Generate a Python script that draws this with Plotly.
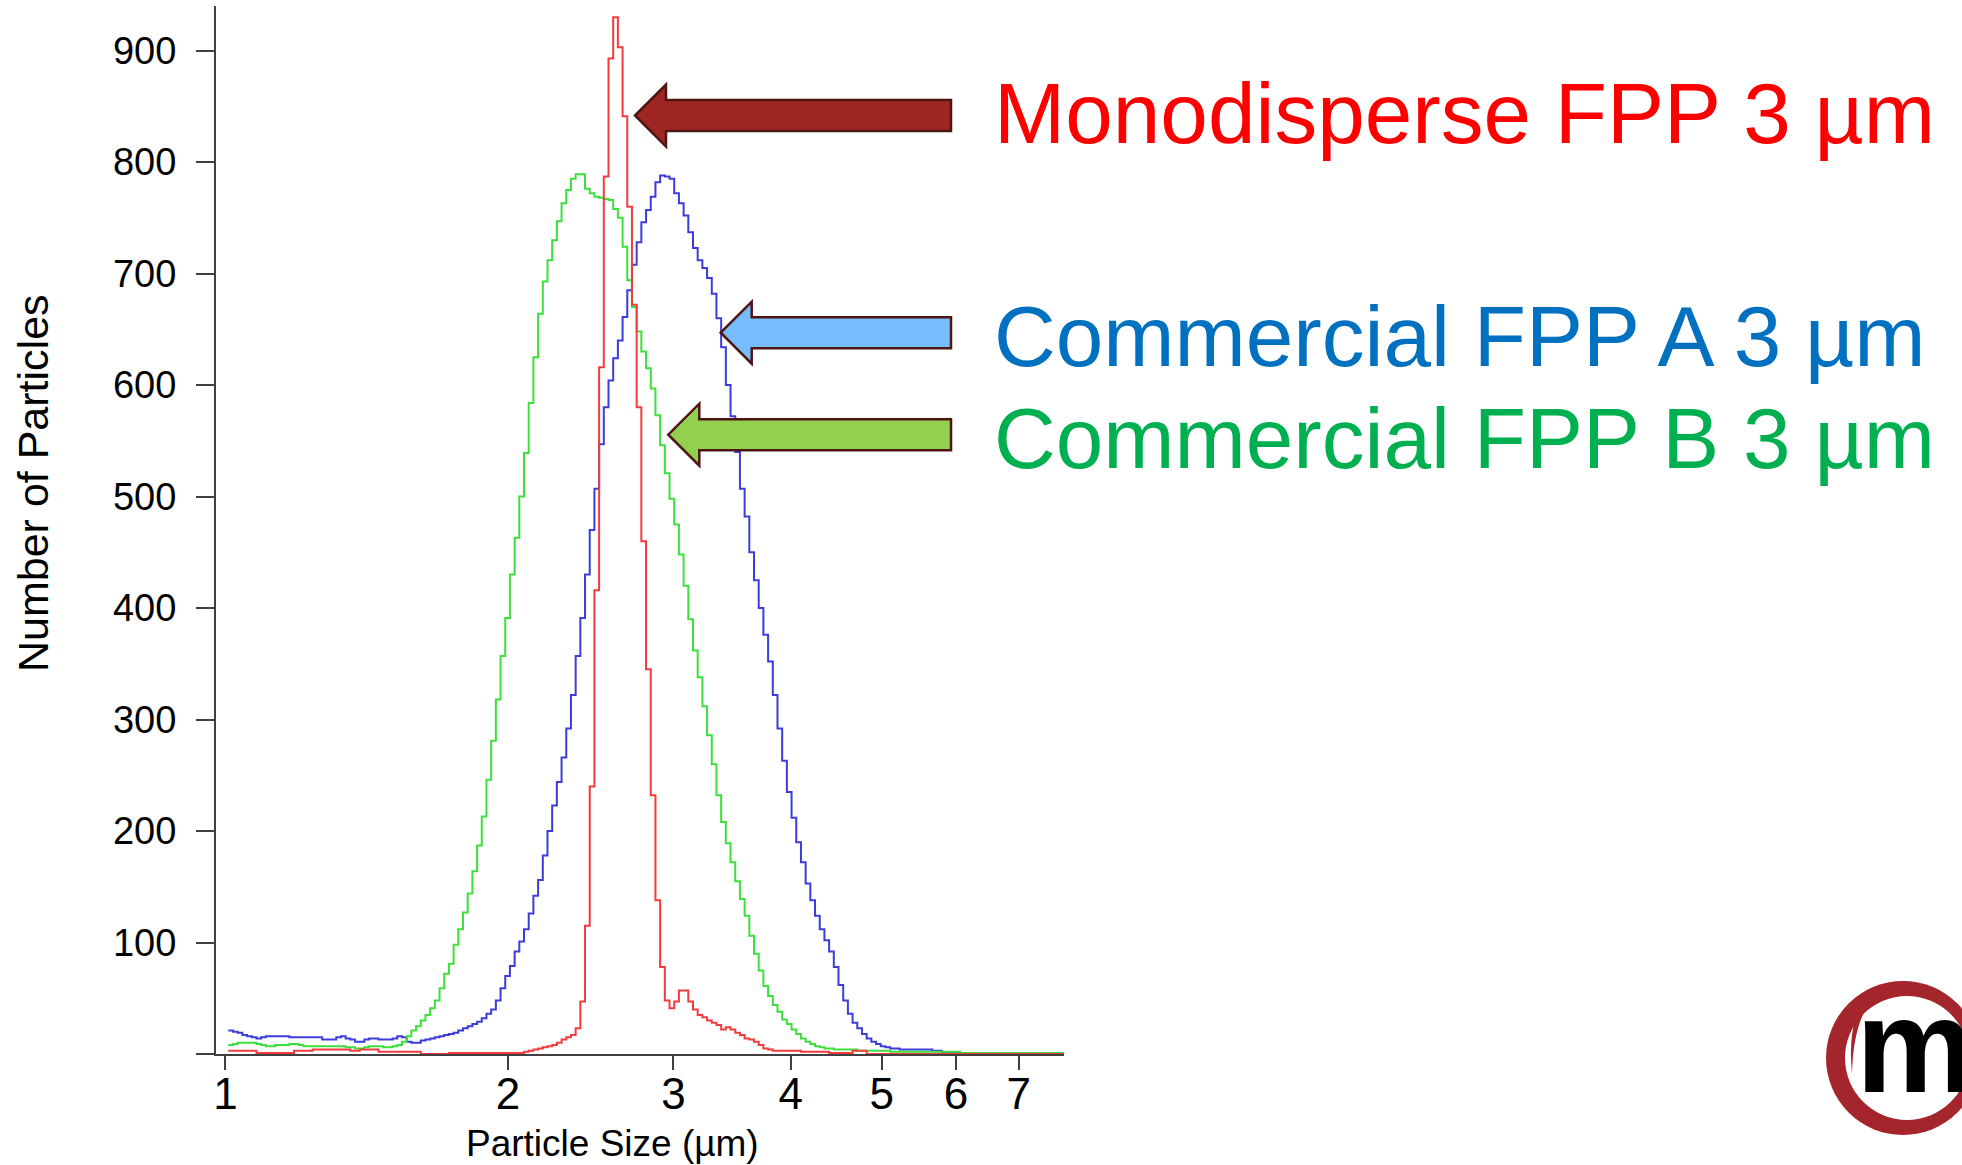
import numpy as np
import plotly.graph_objects as go

# ---------------- data ----------------
# Instrument size bins are log-spaced: first edge and width in log10(µm)
LOG_FIRST_EDGE = 0.003
LOG_BIN_WIDTH = 0.005

x_tick_values = [1, 2, 3, 4, 5, 6, 7]
x_tick_labels = ["1", "2", "3", "4", "5", "6", "7"]
y_tick_values = [0, 100, 200, 300, 400, 500, 600, 700, 800, 900]
y_tick_labels = ["", "100", "200", "300", "400", "500", "600", "700", "800", "900"]

series_names = ["Commercial FPP A 3 µm", "Commercial FPP B 3 µm", "Monodisperse FPP 3 µm"]

# Commercial FPP A (blue), counts per bin
commercial_a = [
    21, 20, 19, 17, 16, 15, 14, 15, 16, 16,
    16, 16, 16, 15, 15, 15, 15, 15, 15, 15,
    13, 13, 13, 15, 16, 14, 13, 11, 11, 13,
    14, 14, 13, 13, 13, 14, 16, 15, 11, 10,
    10, 12, 13, 14, 15, 16, 17, 18, 19, 21,
    23, 25, 27, 29, 32, 36, 40, 48, 59, 70,
    79, 92, 101, 112, 126, 142, 156, 178, 200, 223,
    244, 266, 292, 322, 357, 391, 430, 470, 507, 547,
    580, 604, 624, 640, 661, 685, 708, 728, 746, 757,
    769, 782, 788, 787, 785, 772, 763, 752, 737, 723,
    712, 705, 696, 682, 660, 634, 600, 572, 540, 507,
    482, 450, 425, 400, 376, 352, 322, 292, 263, 235,
    212, 190, 172, 153, 138, 124, 112, 102, 92, 78,
    62, 48, 36, 28, 23, 18, 14, 11, 9, 7,
    6, 5, 5, 4, 4, 4, 4, 4, 4, 4,
    3, 3, 1, 1, 1, 1, 1, 1, 1, 1,
    1, 1, 1, 0.5, 0.5, 0.5, 0.5, 0.5, 0.5, 0.5,
    0.5, 0.5, 0.5, 0.5, 0.5, 0.5, 0.5, 0.5,
]

# Commercial FPP B (green), counts per bin
commercial_b = [
    8, 9, 10, 10, 10, 10, 9, 8, 7, 7,
    8, 8, 8, 9, 9, 8, 7, 7, 7, 7,
    7, 7, 7, 7, 7, 6, 6, 5, 5, 6,
    7, 7, 7, 6, 6, 7, 8, 11, 16, 21,
    25, 30, 35, 41, 48, 59, 72, 81, 98, 112,
    127, 144, 164, 187, 213, 246, 281, 318, 357, 391,
    430, 463, 500, 539, 584, 625, 664, 693, 712, 730,
    747, 763, 775, 785, 789, 789, 776, 772, 769, 768,
    767, 766, 758, 750, 724, 694, 670, 648, 630, 615,
    597, 573, 546, 521, 498, 475, 448, 420, 390, 362,
    338, 312, 286, 260, 232, 208, 189, 172, 155, 139,
    124, 106, 90, 75, 61, 52, 44, 38, 31, 27,
    22, 18, 14, 11, 9, 7, 6, 5, 5, 4,
    4, 4, 4, 4, 3, 3, 3, 3, 3, 3,
    3, 2, 2, 2, 2, 2, 2, 2, 2, 2,
    2, 2, 2, 2, 2, 2, 1, 1, 1, 1,
    1, 1, 1, 1, 1, 1, 1, 1, 1, 1,
    1, 1, 1, 1, 1, 1, 1, 1,
]

# Monodisperse FPP (red), counts per bin
monodisperse = [
    3, 3, 3, 3, 3, 3, 1, 1, 1, 1,
    1, 1, 1, 1, 3, 3, 3, 3, 4, 4,
    4, 4, 4, 4, 4, 4, 3, 3, 4, 4,
    4, 4, 2, 2, 2, 2, 2, 2, 2, 2,
    2, 0, 0, 0, 0, 0, 0, 1, 1, 1,
    1, 1, 1, 1, 1, 1, 1, 1, 1, 1,
    1, 1, 1, 2, 3, 4, 5, 6, 7, 8,
    10, 13, 15, 17, 23, 47, 115, 240, 416, 616,
    787, 893, 930, 903, 841, 760, 672, 580, 460, 345,
    232, 138, 78, 48, 41, 47, 57, 57, 47, 40,
    35, 33, 30, 28, 26, 22, 24, 22, 19, 17,
    14, 13, 11, 8, 5, 4, 3, 3, 3, 3,
    3, 3, 2, 2, 2, 2, 2, 2, 1, 1,
    1, 1, 1, 3, 3, 3, 0, 0, 0, 0,
    0, 0, 0, 0, 0, 0, 0, 0, 0, 0,
    0, 0, 0, 0, 0, 0, 0, 0, 0, 0,
    0, 0, 0, 0, 0, 0, 0, 0, 0, 0,
    0, 0, 0, 0, 0, 0, 0, 0,
]

# ---------------- styling / layout ----------------
W, H = 1962, 1165
PL, PR, PT, PB = 216, 1064, 6, 1054  # plot area edges in pixels
FONT = "Liberation Sans, Arial, Helvetica, sans-serif"
AXIS_COLOR = "#404040"

n_bins = len(monodisperse)
edges = 10 ** (LOG_FIRST_EDGE + LOG_BIN_WIDTH * np.arange(n_bins + 1))


def px(x):
    return (x - PL) / (PR - PL)


def py(y):
    return (PB - y) / (PB - PT)


def step_trace(values, color, name):
    vals = list(values) + [values[-1]]
    return go.Scatter(
        x=edges, y=vals, mode="lines", line=dict(color=color, width=2, shape="hv"),
        name=name, hoverinfo="skip",
    )


fig = go.Figure()
fig.add_trace(step_trace(commercial_a, "#3C3CDC", series_names[0]))
fig.add_trace(step_trace(commercial_b, "#3CE03C", series_names[1]))
fig.add_trace(step_trace(monodisperse, "#F23C3C", series_names[2]))


def arrow_path(tip_x, tip_y, tail_x, head_len=31, head_half=31, shaft_half=15.5):
    pts = [
        (tip_x, tip_y), (tip_x + head_len, tip_y - head_half),
        (tip_x + head_len, tip_y - shaft_half), (tail_x, tip_y - shaft_half),
        (tail_x, tip_y + shaft_half), (tip_x + head_len, tip_y + shaft_half),
        (tip_x + head_len, tip_y + head_half),
    ]
    return "M " + " L ".join(f"{px(x):.5f},{py(y):.5f}" for x, y in pts) + " Z"


shapes = []
for tip_x, tip_y, fill in [
    (635, 115.5, "#A02624"),
    (720.7, 332.7, "#75BDFD"),
    (668.3, 434.7, "#92D050"),
]:
    shapes.append(dict(
        type="path", xref="paper", yref="paper", path=arrow_path(tip_x, tip_y, 951),
        fillcolor=fill, line=dict(color="#4E1612", width=2.5), layer="above",
    ))

# logo: red ring with inner swoosh
shapes.append(dict(type="circle", xref="paper", yref="paper",
                   x0=px(1826), x1=px(1980), y0=py(1135), y1=py(981),
                   fillcolor="#A4262C", line=dict(width=0)))
shapes.append(dict(type="circle", xref="paper", yref="paper",
                   x0=px(1845), x1=px(1969), y0=py(1120), y1=py(996),
                   fillcolor="white", line=dict(width=0)))


def pth(points_cmds):
    out = []
    for cmd, pts in points_cmds:
        out.append(cmd + " " + " ".join(f"{px(x):.5f},{py(y):.5f}" for x, y in pts))
    return " ".join(out) + " Z"


swoosh = pth([
    ("M", [(1874, 987)]),
    ("Q", [(1846, 1012), (1852, 1074)]),
    ("Q", [(1853, 1016), (1879, 991)]),
])
shapes.append(dict(type="path", xref="paper", yref="paper", path=swoosh,
                   fillcolor="#A4262C", line=dict(width=0)))

annotations = [
    dict(text="Monodisperse FPP 3 µm", x=px(992), y=py(113.7), xanchor="left", yanchor="middle",
         font=dict(family=FONT, size=85.5, color="#FF0000")),
    dict(text="Commercial FPP A 3 µm", x=px(992), y=py(336), xanchor="left", yanchor="middle",
         font=dict(family=FONT, size=85.5, color="#0070C0")),
    dict(text="Commercial FPP B 3 µm", x=px(992), y=py(438), xanchor="left", yanchor="middle",
         font=dict(family=FONT, size=85.5, color="#00B050")),
    dict(text="Particle Size (µm)", x=px(612.5), y=py(1143), xanchor="center", yanchor="middle",
         font=dict(family=FONT, size=37, color="black")),
    dict(text="Number of Particles", x=px(33), y=py(483), xanchor="center", yanchor="middle",
         textangle=-90, font=dict(family=FONT, size=43, color="black")),
    dict(text="<b>m</b>", x=px(1854), y=py(1046), xanchor="left", yanchor="middle",
         font=dict(family=FONT, size=133, color="black")),
]
for a in annotations:
    a.update(xref="paper", yref="paper", showarrow=False)

fig.update_layout(
    width=W, height=H,
    margin=dict(l=PL, r=W - PR, t=PT, b=H - PB, pad=0),
    paper_bgcolor="white", plot_bgcolor="white",
    showlegend=False,
    font=dict(family=FONT, color="black"),
    shapes=shapes,
    annotations=annotations,
    xaxis=dict(
        type="log",
        range=[np.log10(0.977), np.log10(7.82)],
        tickmode="array", tickvals=x_tick_values, ticktext=x_tick_labels,
        ticks="outside", ticklen=14, tickwidth=2, tickcolor=AXIS_COLOR,
        showline=True, linecolor=AXIS_COLOR, linewidth=2,
        showgrid=False, zeroline=False,
        tickfont=dict(family=FONT, size=44, color="black"),
        ticklabelstandoff=-14,
    ),
    yaxis=dict(
        range=[0, 940],
        tickmode="array", tickvals=y_tick_values, ticktext=y_tick_labels,
        ticks="outside", ticklen=18, tickwidth=2, tickcolor=AXIS_COLOR,
        showline=True, linecolor=AXIS_COLOR, linewidth=2,
        showgrid=False, zeroline=False,
        tickfont=dict(family=FONT, size=38, color="black"),
        ticklabelstandoff=12,
    ),
)

fig.write_html("out.html")
